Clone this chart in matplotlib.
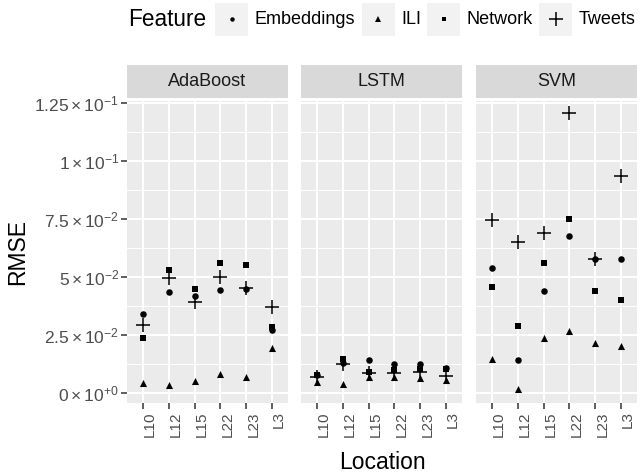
import matplotlib
matplotlib.use("Agg")
import matplotlib.pyplot as plt
from matplotlib.patches import Rectangle
from matplotlib.ticker import MultipleLocator, FuncFormatter

plt.rcParams["font.family"] = ["Liberation Sans", "DejaVu Sans"]
plt.rcParams["mathtext.fontset"] = "custom"
plt.rcParams["mathtext.rm"] = "Liberation Sans"
plt.rcParams["mathtext.it"] = "Liberation Sans:italic"

# data (RMSE per location)
locations = ["L10", "L12", "L15", "L22", "L23", "L3"]
models = ["AdaBoost", "LSTM", "SVM"]
features = ["Embeddings", "ILI", "Network", "Tweets"]

adaboost_embeddings = [0.0342, 0.0437, 0.0421, 0.0445, 0.0450, 0.0273]
adaboost_ili = [0.0043, 0.0036, 0.0055, 0.0082, 0.0069, 0.0197]
adaboost_network = [0.0237, 0.0532, 0.0450, 0.0560, 0.0552, 0.0284]
adaboost_tweets = [0.0295, 0.0499, 0.0392, 0.0500, 0.0455, 0.0372]

lstm_embeddings = [0.0080, 0.0130, 0.0144, 0.0125, 0.0125, 0.0108]
lstm_ili = [0.0050, 0.0040, 0.0069, 0.0072, 0.0065, 0.0057]
lstm_network = [0.0078, 0.0147, 0.0093, 0.0100, 0.0103, 0.0105]
lstm_tweets = [0.0072, 0.0125, 0.0086, 0.0086, 0.0093, 0.0076]

svm_embeddings = [0.0539, 0.0144, 0.0441, 0.0680, 0.0578, 0.0579]
svm_ili = [0.0147, 0.0017, 0.0237, 0.0267, 0.0216, 0.0205]
svm_network = [0.0460, 0.0292, 0.0560, 0.0750, 0.0443, 0.0402]
svm_tweets = [0.0747, 0.0650, 0.0690, 0.1207, 0.0578, 0.0937]

series = {
    "AdaBoost": [adaboost_embeddings, adaboost_ili, adaboost_network, adaboost_tweets],
    "LSTM": [lstm_embeddings, lstm_ili, lstm_network, lstm_tweets],
    "SVM": [svm_embeddings, svm_ili, svm_network, svm_tweets],
}

MARKERS = {
    "Embeddings": dict(marker="o", s=22, linewidths=0),
    "ILI": dict(marker="^", s=26, linewidths=0),
    "Network": dict(marker="s", s=20, linewidths=0),
    "Tweets": dict(marker="+", s=100, linewidths=1.1),
}
LEGEND_MS = {"Embeddings": 3.2, "ILI": 4.0, "Network": 3.4, "Tweets": 9.5}

W, H = 640, 473
fig = plt.figure(figsize=(W / 100, H / 100), dpi=100)


def px_axes(x0, y0, x1, y1):
    return fig.add_axes([x0 / W, 1 - y1 / H, (x1 - x0) / W, (y1 - y0) / H])


def sci_label(v, pos):
    if abs(v) < 1e-12:
        return r"$\mathregular{0\times10^{+0}}$"
    exp = int(f"{v:e}".split("e")[1])
    mant = round(v / 10 ** exp, 4)
    return r"$\mathregular{%g\times10^{%d}}$" % (mant, exp)


panel_left = [127.3, 301.3, 476.3]
panel_w = 160.4
panel_top, panel_bottom = 100.7, 402.7
strip_top, strip_bottom = 65.0, 97.7

for i, model in enumerate(models):
    x0 = panel_left[i]
    ax = px_axes(x0, panel_top, x0 + panel_w, panel_bottom)
    ax.set_facecolor("#EBEBEB")
    for s in ax.spines.values():
        s.set_visible(False)
    ax.set_axisbelow(True)

    for feat, vals in zip(features, series[model]):
        ax.scatter(locations, vals, color="black", zorder=3, **MARKERS[feat])

    ax.set_xlim(-0.6, len(locations) - 0.4)
    ax.set_ylim(-0.00405, 0.1261)
    ax.yaxis.set_major_locator(MultipleLocator(0.025))
    ax.yaxis.set_minor_locator(MultipleLocator(0.0125))
    ax.grid(which="major", color="white", linewidth=1.4)
    ax.grid(which="minor", axis="y", color="white", linewidth=0.7)

    ax.tick_params(axis="x", length=4, width=1.1, color="#333333",
                   labelsize=11, labelcolor="#4D4D4D", pad=2)
    for lab in ax.get_xticklabels():
        lab.set_rotation(90)
        lab.set_ha("left")
        lab.set_va("top")
    ax.tick_params(axis="y", which="minor", length=0)
    if i == 0:
        ax.yaxis.set_major_formatter(FuncFormatter(sci_label))
        ax.tick_params(axis="y", length=4, width=1.1, color="#333333",
                       labelsize=12.5, labelcolor="#4D4D4D", pad=2)
    else:
        ax.tick_params(axis="y", length=0, labelleft=False)

    sax = px_axes(x0, strip_top, x0 + panel_w, strip_bottom)
    sax.set_facecolor("#D9D9D9")
    sax.set_xticks([])
    sax.set_yticks([])
    for s in sax.spines.values():
        s.set_visible(False)
    sax.text(0.5, 0.5, model, ha="center", va="center", fontsize=13,
             color="#1A1A1A", transform=sax.transAxes)

# axis titles
fig.text((panel_left[0] + panel_left[2] + panel_w) / 2 / W, 1 - 462 / H, "Location",
         ha="center", va="center", fontsize=16.5)
fig.text(18 / W, 1 - (panel_top + panel_bottom) / 2 / H, "RMSE", rotation=90,
         ha="center", va="center", fontsize=16.5)

# legend drawn in pixel space on top
lax = fig.add_axes([0, 0, 1, 1])
lax.set_xlim(0, W)
lax.set_ylim(H, 0)
lax.axis("off")
key_y0, key_size = 2.7, 33
lax.text(128, key_y0 + key_size / 2, "Feature", ha="left", va="center", fontsize=16.3)
key_x = [215, 361.7, 427, 539.3]
for kx, feat in zip(key_x, features):
    lax.add_patch(Rectangle((kx, key_y0), key_size, key_size, facecolor="#F2F2F2",
                            edgecolor="none"))
    m = MARKERS[feat]["marker"]
    lax.plot([kx + key_size / 2], [key_y0 + key_size / 2], linestyle="none",
             marker=m, color="black", markersize=LEGEND_MS[feat],
             markeredgewidth=1.1 if m == "+" else 0)
    lax.text(kx + key_size + 6.5, key_y0 + key_size / 2, feat, ha="left", va="center",
             fontsize=13)

fig.savefig("out.png", dpi=100)
